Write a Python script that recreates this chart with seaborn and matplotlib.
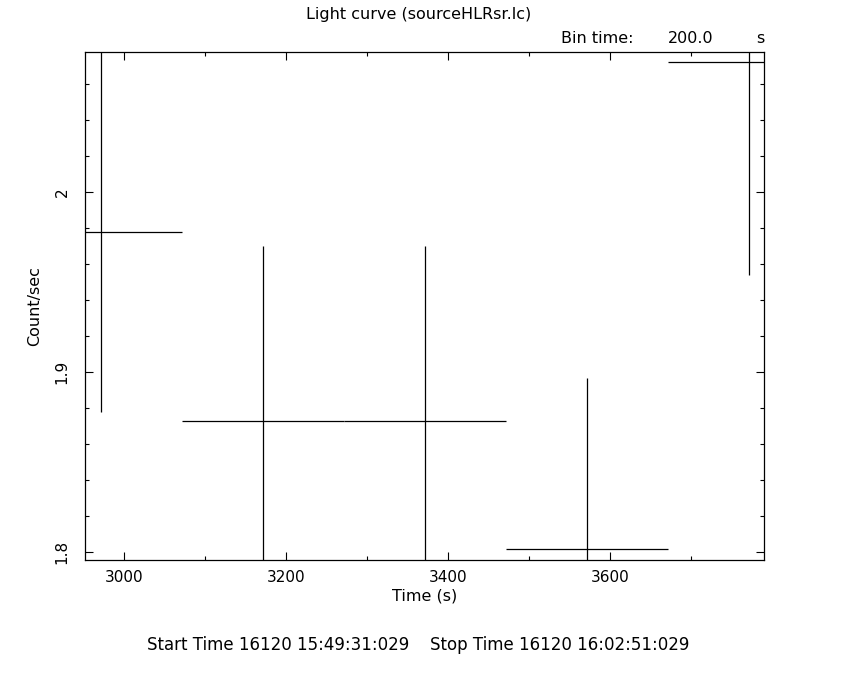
import numpy as np
import pandas as pd
import matplotlib
matplotlib.use("Agg")
import matplotlib.pyplot as plt
import seaborn as sns
from matplotlib.ticker import MultipleLocator

# light curve bins (200 s)
time_s = [2971.6, 3171.6, 3371.6, 3571.6, 3771.6]
rate = [1.978, 1.873, 1.873, 1.802, 2.072]
rate_err = [0.100, 0.097, 0.097, 0.095, 0.118]
half_bin = [100, 100, 100, 100, 100]

x_ticks = [3000, 3200, 3400, 3600]
y_ticks = [1.8, 1.9, 2.0]
y_ticklabels = ["1.8", "1.9", "2"]

df = pd.DataFrame({"time": time_s, "rate": rate, "err": rate_err, "xerr": half_bin})

sns.set_theme(style="ticks")
plt.rcParams['font.family'] = ['DejaVu Sans']
plt.rcParams['text.color'] = 'black'
plt.rcParams['axes.labelcolor'] = 'black'

fig = plt.figure(figsize=(8.5, 6.8), dpi=100)
ax = fig.add_axes([0.1, 0.1765, 0.7992, 0.7475])

ax.errorbar(df["time"], df["rate"], yerr=df["err"], xerr=df["xerr"],
            fmt="none", ecolor="black", elinewidth=0.9, capsize=0)

ax.set_xlim(2951.5, 3790.5)
ax.set_ylim(1.7957, 2.078)

ax.set_xticks(x_ticks)
ax.xaxis.set_minor_locator(MultipleLocator(100))
ax.set_yticks(y_ticks)
ax.set_yticklabels(y_ticklabels)
ax.yaxis.set_minor_locator(MultipleLocator(0.02))

ax.tick_params(which="both", direction="in", top=True, right=True,
               width=0.8, colors="black", labelsize=11)
ax.tick_params(which="major", length=5.8)
ax.tick_params(which="minor", length=2.9)
ax.tick_params(axis="x", pad=7)
ax.tick_params(axis="y", pad=11)
for lab in ax.get_yticklabels():
    lab.set_rotation(90)
    lab.set_va("center")

for sp in ax.spines.values():
    sp.set_color("black")
    sp.set_linewidth(0.9)

ax.set_xlabel("Time (s)", fontsize=11.5, labelpad=3)
ax.set_ylabel("Count/sec", fontsize=11.5, labelpad=9)

fs = 11.5
fig.text(0.492, 0.978, "Light curve (sourceHLRsr.lc)", ha="center", va="center", fontsize=fs)
fig.text(0.660, 0.944, "Bin time:", ha="left", va="center", fontsize=fs)
fig.text(0.786, 0.944, "200.0", ha="left", va="center", fontsize=fs)
fig.text(0.890, 0.944, "s", ha="left", va="center", fontsize=fs)
fig.text(0.173, 0.051, "Start Time 16120 15:49:31:029", ha="left", va="center", fontsize=12)
fig.text(0.506, 0.051, "Stop Time 16120 16:02:51:029", ha="left", va="center", fontsize=12)

fig.savefig("out.png", dpi=100, facecolor="white")
